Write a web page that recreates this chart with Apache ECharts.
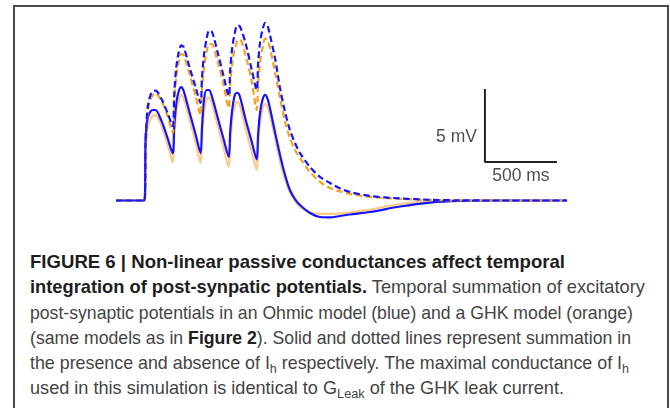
<!DOCTYPE html>
<html>
<head>
<meta charset="utf-8">
<script src="https://cdn.jsdelivr.net/npm/echarts@6/dist/echarts.min.js"></script>
<style>
  html, body { margin: 0; padding: 0; background: #fff; }
  #page { position: relative; width: 670px; height: 408px; overflow: hidden; }
  #frame { position: absolute; left: 13px; top: 5px; width: 652px; height: 420px;
           border: 2px solid #4a4a4a; border-bottom: none; }
  #chart { position: absolute; left: 0; top: 0; width: 670px; height: 240px; }
  #caption { position: absolute; left: 30px; top: 249px; font-family: "Liberation Sans", Arial, sans-serif;
             font-size: 18.5px; color: #444; }
  #caption .ln { width: max-content; height: 25.3px; line-height: 25.3px; white-space: nowrap; transform-origin: 0 50%; }
  #caption b { color: #1e1e1e; }
  #caption sub { font-size: 13px; vertical-align: -4px; line-height: 0; }
</style>
</head>
<body>
<div id="page">
  <div id="frame"></div>
  <div id="chart"></div>
  <div id="caption">
    <div class="ln" data-w="535"><b>FIGURE 6 | Non-linear passive conductances affect temporal</b></div>
    <div class="ln" data-w="615"><b>integration of post-synpatic potentials.</b> Temporal summation of excitatory</div>
    <div class="ln" data-w="603">post-synaptic potentials in an Ohmic model (blue) and a GHK model (orange)</div>
    <div class="ln" data-w="601">(same models as in <b>Figure 2</b>). Solid and dotted lines represent summation in</div>
    <div class="ln" data-w="599">the presence and absence of I<sub>h</sub> respectively. The maximal conductance of I<sub>h</sub></div>
    <div class="ln" data-w="534">used in this simulation is identical to G<sub>Leak</sub> of the GHK leak current.</div>
  </div>
</div>
<script>
// time in ms, membrane potential in mV relative to rest
var time = [0, 198, 205, 212, 222, 240, 257, 274, 316, 358,
            394, 404, 418, 436, 453, 470, 512, 554,
            587, 597, 611, 629, 646, 663, 705, 747,
            783, 793, 807, 825, 842, 859, 901, 943,
            977, 987, 1001, 1019, 1036, 1053, 1069, 1104, 1139, 1174, 1208, 1243, 1278,
            1347, 1417, 1486, 1556, 1625, 1764, 1972, 2181, 2389, 2667, 3132];

// Ohmic model, with Ih (solid blue)
var ohmicIh = [0, 0, 4.14, 5.10, 5.72, 6.10, 6.20, 6.20, 5.45, 4.28,
               3.22, 5.03, 6.61, 7.50, 7.77, 7.50, 5.99, 4.49,
               3.25, 4.97, 6.88, 7.57, 7.57, 7.23, 5.72, 4.21,
               2.98, 4.69, 6.20, 7.23, 7.38, 7.16, 5.51, 4.01,
               2.81, 4.55, 6.06, 6.95, 7.23, 6.95, 6.34, 4.69, 3.12, 1.75, 0.72, 0.10, -0.31,
               -0.86, -1.13, -1.16, -1.06, -0.96, -0.79, -0.41, -0.14, -0.03, 0, 0];

// GHK model, with Ih (solid orange)
var ghkIh = [0, 0, 3.12, 4.28, 5.10, 5.58, 5.79, 5.86, 5.10, 3.87,
             2.60, 4.35, 5.92, 6.88, 7.23, 7.02, 5.51, 3.94,
             2.57, 4.21, 6.06, 6.95, 7.05, 6.75, 5.17, 3.60,
             2.29, 3.94, 5.51, 6.47, 6.75, 6.54, 4.90, 3.32,
             2.09, 3.80, 5.38, 6.34, 6.61, 6.40, 5.86, 4.28, 2.64, 1.40, 0.51, -0.03, -0.45,
             -0.79, -0.92, -0.92, -0.89, -0.82, -0.62, -0.24, -0.07, -0.01, 0, 0];

// Ohmic model, no Ih (dashed blue)
var ohmicNoIh = [0, 0, 3.80, 5.38, 6.54, 7.23, 7.47, 7.53, 6.95, 5.99,
                 5.10, 7.23, 9.08, 10.17, 10.62, 10.51, 9.08, 7.71,
                 6.68, 8.39, 9.97, 11.06, 11.64, 11.61, 10.17, 8.53,
                 7.16, 8.94, 10.45, 11.47, 11.99, 11.95, 10.72, 8.94,
                 7.57, 9.42, 10.86, 11.75, 12.16, 11.95, 11.34, 9.76, 7.71, 6.06, 4.83, 3.94, 3.25,
                 2.29, 1.61, 1.20, 0.82, 0.58, 0.31, 0.14, 0.05, 0.01, 0, 0];

// GHK model, no Ih (dashed orange)
var ghkNoIh = [0, 0, 3.12, 4.97, 6.20, 6.95, 7.23, 7.36, 6.82, 5.79,
               4.62, 6.68, 8.39, 9.55, 10.03, 9.97, 8.60, 7.09,
               5.86, 7.57, 9.08, 10.17, 10.72, 10.72, 9.55, 7.91,
               6.34, 7.98, 9.42, 10.38, 10.92, 11.03, 9.90, 8.12,
               6.20, 7.98, 9.49, 10.51, 11.10, 10.92, 10.45, 8.80, 7.02, 5.38, 4.28, 3.46, 2.91,
               1.95, 1.27, 0.86, 0.62, 0.45, 0.24, 0.12, 0.03, 0.01, 0, 0];

// scale bar: 500 ms by 5 mV
var scaleBarTime = [2562, 2562, 3062];
var scaleBarV = [7.64, 2.64, 2.64];
var scaleLabels = ['5 mV', '500 ms'];

function pairs(xs, ys) {
  return xs.map(function (x, i) { return [x, ys[i]]; });
}

var chart = echarts.init(document.getElementById('chart'));

function trace(name, values, color, dashed, z) {
  return {
    name: name,
    type: 'line',
    data: pairs(time, values),
    showSymbol: false,
    smooth: 0.3,
    z: z,
    lineStyle: { color: color, width: 2.2, type: dashed ? [6.5, 3.5] : 'solid' }
  };
}

chart.setOption({
  animation: false,
  grid: { left: 116, right: 103, top: 10.7, bottom: 10.3 },
  xAxis: { type: 'value', min: 0, max: 3132, show: false },
  yAxis: { type: 'value', min: -2, max: 13, show: false },
  series: [
    trace('GHK, Ih', ghkIh, '#ffc985', false, 2),
    trace('Ohmic, Ih', ohmicIh, '#1414ff', false, 3),
    trace('GHK, no Ih', ghkNoIh, '#f7a21b', true, 4),
    trace('Ohmic, no Ih', ohmicNoIh, '#1414ff', true, 5),
    {
      type: 'line',
      data: pairs(scaleBarTime, scaleBarV),
      showSymbol: false,
      lineStyle: { color: '#222', width: 2 },
      z: 6
    },
    {
      type: 'scatter',
      symbolSize: 0,
      z: 6,
      data: [
        { value: [scaleBarTime[0], (scaleBarV[0] + scaleBarV[1]) / 2],
          label: { show: true, position: 'left', distance: 8, offset: [0, 12], formatter: scaleLabels[0] } },
        { value: [(scaleBarTime[1] + scaleBarTime[2]) / 2, scaleBarV[2]],
          label: { show: true, position: 'bottom', distance: 5, formatter: scaleLabels[1] } }
      ],
      label: { color: '#222', fontSize: 17.5, fontFamily: 'Liberation Sans, Arial, sans-serif' }
    }
  ]
});

// fit each caption line to the width it has in the figure
document.querySelectorAll('#caption .ln').forEach(function (el) {
  var w = el.getBoundingClientRect().width;
  var target = +el.getAttribute('data-w');
  el.style.transform = 'scaleX(' + (target / w) + ')';
});
</script>
</body>
</html>
